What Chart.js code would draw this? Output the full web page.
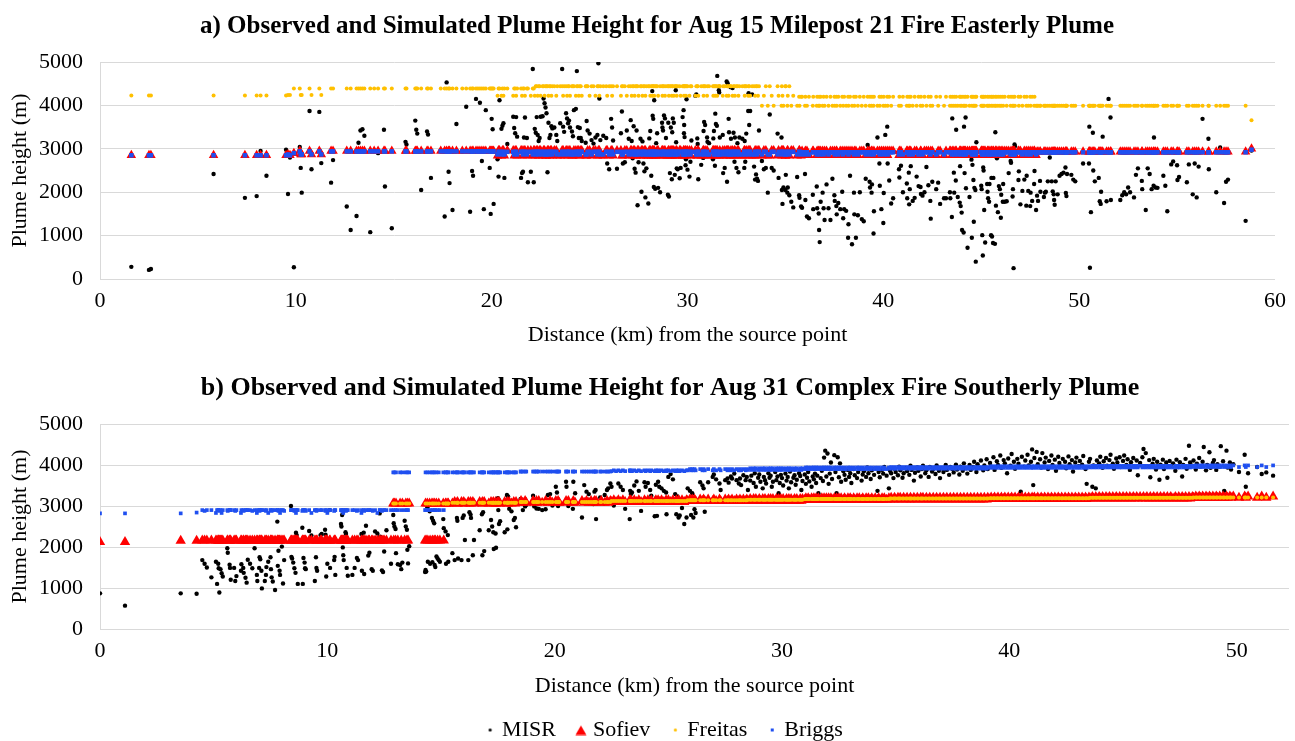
<!DOCTYPE html>
<html>
<head>
<meta charset="utf-8">
<title>Observed and Simulated Plume Height</title>
<script src="https://cdn.jsdelivr.net/npm/chart.js@4.4.0/dist/chart.umd.min.js"></script>
<style>
  html, body { margin: 0; padding: 0; background: #fff; overflow: hidden; }
  #boxA { position: absolute; left: 0; top: 0; width: 1295px; height: 355px; }
  #boxB { position: absolute; left: 0; top: 360px; width: 1295px; height: 391px; }
</style>
</head>
<body>
<div id="boxA"><canvas id="chartA" width="1295" height="355"></canvas></div>
<div id="boxB"><canvas id="chartB" width="1295" height="391"></canvas></div>
<script>
// ---- a) Aug 15 Milepost 21 Fire, easterly plume ----
// distance (km) from the source point, one entry per MISR retrieval
var distA = [
  1.6,2.5,2.6,5.8,7.4,8.0,8.2,8.5,9.5,9.6,
  9.7,9.9,10.2,10.25,10.3,10.7,10.8,11.2,11.3,11.8,
  11.9,12.6,12.8,13.1,13.2,13.3,13.4,13.5,13.8,14.0,
  14.2,14.5,14.55,14.9,15.6,15.65,16.1,16.15,16.2,16.4,
  16.7,16.75,16.9,17.4,17.6,17.7,17.8,17.85,18.0,18.2,
  18.5,18.7,18.9,19.0,19.05,19.2,19.3,19.4,19.5,19.6,
  19.7,19.9,19.95,20.0,20.05,20.1,20.3,20.35,20.4,20.5,
  20.55,20.6,20.65,20.8,21.1,21.15,21.2,21.25,21.3,21.5,
  21.55,21.6,21.65,21.7,21.8,21.85,22.0,22.1,22.15,22.2,
  22.25,22.3,22.35,22.4,22.45,22.5,22.6,22.65,22.7,22.75,
  22.8,22.85,22.9,22.95,23.0,23.05,23.1,23.2,23.3,23.35,
  23.5,23.6,23.65,23.7,23.8,23.85,23.9,23.95,24.0,24.1,
  24.15,24.2,24.3,24.35,24.4,24.45,24.5,24.55,24.6,24.8,
  24.85,24.9,25.0,25.1,25.2,25.3,25.4,25.45,25.5,25.55,
  25.7,25.85,25.9,26.0,26.1,26.15,26.2,26.4,26.6,26.65,
  26.7,26.8,26.9,27.0,27.1,27.15,27.2,27.25,27.3,27.35,
  27.4,27.45,27.5,27.6,27.65,27.7,27.75,27.8,27.85,27.9,
  28.0,28.05,28.1,28.15,28.2,28.22,28.25,28.28,28.3,28.35,
  28.4,28.45,28.5,28.6,28.7,28.72,28.75,28.8,28.85,28.9,
  29.0,29.02,29.05,29.1,29.15,29.2,29.22,29.25,29.3,29.35,
  29.4,29.42,29.45,29.5,29.6,29.65,29.75,29.8,29.82,29.83,
  29.85,29.9,29.92,29.95,30.0,30.1,30.15,30.2,30.4,30.45,
  30.5,30.52,30.55,30.7,30.8,30.82,30.85,30.9,31.0,31.02,
  31.1,31.3,31.32,31.35,31.4,31.42,31.45,31.5,31.52,31.6,
  31.62,31.65,31.8,31.82,31.9,32.0,32.02,32.05,32.1,32.12,
  32.2,32.22,32.3,32.35,32.4,32.42,32.5,32.55,32.6,32.65,
  32.8,32.9,32.92,32.95,33.0,33.1,33.12,33.15,33.2,33.3,
  33.4,33.45,33.5,33.55,33.6,33.65,33.8,33.9,34.0,34.1,
  34.2,34.3,34.4,34.6,34.65,34.8,34.82,34.85,34.9,35.0,
  35.02,35.1,35.12,35.2,35.3,35.4,35.6,35.7,35.72,35.8,
  35.85,36.0,36.02,36.1,36.2,36.4,36.42,36.6,36.62,36.7,
  36.72,36.75,36.8,36.9,36.95,37.0,37.1,37.2,37.3,37.4,
  37.5,37.52,37.6,37.62,37.7,37.8,37.9,37.95,38.0,38.1,
  38.2,38.22,38.3,38.4,38.5,38.52,38.6,38.7,38.8,38.9,
  39.0,39.1,39.2,39.3,39.32,39.4,39.42,39.5,39.52,39.7,
  39.8,39.82,39.9,40.0,40.02,40.1,40.2,40.22,40.3,40.4,
  40.5,40.8,40.82,40.9,41.0,41.2,41.22,41.3,41.32,41.35,
  41.4,41.5,41.6,41.7,41.8,41.9,41.92,42.0,42.1,42.2,
  42.3,42.4,42.42,42.5,42.7,42.8,42.9,43.1,43.2,43.4,
  43.42,43.5,43.52,43.6,43.62,43.7,43.72,43.8,43.9,43.92,
  43.95,44.0,44.02,44.1,44.12,44.15,44.2,44.22,44.3,44.4,
  44.5,44.52,44.55,44.6,44.62,44.65,44.7,44.72,44.75,45.0,
  45.02,45.05,45.08,45.1,45.12,45.15,45.2,45.3,45.32,45.35,
  45.4,45.42,45.5,45.52,45.55,45.6,45.62,45.7,45.72,45.75,
  45.8,45.85,45.9,45.95,46.0,46.02,46.1,46.12,46.2,46.3,
  46.4,46.5,46.52,46.6,46.62,46.65,46.7,46.72,46.9,46.92,
  47.0,47.1,47.2,47.3,47.32,47.4,47.5,47.52,47.6,47.7,
  47.72,47.8,47.85,47.9,48.0,48.02,48.2,48.25,48.3,48.4,
  48.5,48.6,48.65,48.7,48.72,48.75,48.8,48.9,49.0,49.1,
  49.2,49.3,49.32,49.35,49.38,49.6,49.7,49.8,50.2,50.5,
  50.52,50.55,50.6,50.7,50.72,50.8,51.0,51.05,51.1,51.12,
  51.2,51.4,51.5,51.6,51.62,52.1,52.2,52.3,52.4,52.5,
  52.6,52.8,52.9,53.0,53.2,53.22,53.4,53.5,53.6,53.7,
  53.8,53.82,53.9,54.0,54.3,54.4,54.5,54.7,54.8,55.0,
  55.02,55.1,55.5,55.6,55.8,55.9,56.0,56.1,56.3,56.6,
  56.62,57.0,57.2,57.4,57.5,57.6,58.5,58.8
];
var misrA = [
  280,210,230,2420,1870,1910,2950,2380,2980,1960,
  2800,270,3040,2560,1990,3870,2530,3850,2670,2220,
  2740,1670,1130,1450,3140,3420,3450,3300,1080,2950,
  2900,3440,2130,1170,3160,3100,3650,3440,3350,2050,
  3400,3330,2330,2960,1440,4530,2470,2210,1590,3570,
  2930,3970,1550,2490,2380,4150,2970,4060,2720,1610,
  3890,2560,1500,3690,3450,1730,2760,2360,4120,3460,
  3530,3590,2330,3110,3740,3480,3360,3730,3280,2330,
  2440,2470,3260,3720,3250,2230,2470,4840,2230,3460,
  3370,3730,3320,3180,3250,3740,3750,4160,4050,3950,
  3820,2460,3600,3250,3320,3520,3470,3490,3320,3180,
  3590,4840,3510,3390,3820,3700,3590,3650,3490,3400,
  3290,3890,3920,4790,3500,3250,3480,3250,3180,3140,
  3640,3420,3350,3200,3120,3260,3320,4970,4160,3200,
  3300,3250,2660,2530,3690,3490,3190,2540,3360,3860,
  2660,2690,3420,3230,3660,3180,2780,3520,2540,2450,
  3420,1700,2690,3230,2010,3170,2660,2480,1880,2550,
  1740,3240,3410,2380,4330,3760,3690,2120,4120,2080,
  3130,3360,2100,2000,3600,3490,3420,3770,3700,3250,
  1940,3600,1900,2440,3490,2300,3380,3700,3600,2400,
  4350,3150,2550,2530,2320,2560,3730,3890,3360,3550,
  3270,2620,2760,4140,2520,2360,2700,3190,4220,4250,
  3240,3110,2300,2630,2790,3410,3620,3550,3260,3160,
  3130,2760,3240,3410,2610,3810,3570,3530,4680,4350,
  4300,3260,3320,2440,2560,4550,2240,4510,3690,3380,
  4420,3230,4400,3370,2700,3260,2560,3130,2460,3260,
  3230,2560,3180,2700,3350,3870,4280,3550,3870,4250,
  2590,2290,2410,2310,2260,3420,2720,2530,2560,1990,
  3790,2560,2500,3350,2330,3260,2050,1730,2110,2050,
  2400,1990,2110,1930,1780,1650,2350,1930,1870,1670,
  1640,2420,1820,1440,1400,1940,1610,2130,1630,1510,
  1130,850,1780,1990,1630,1360,2180,1630,1360,2310,
  1930,1800,1680,1490,1750,1610,2010,1400,1610,1570,
  950,1260,2380,800,1990,1490,950,1470,2000,1380,
  1330,2310,3090,2240,2110,1990,2180,1050,1560,3260,
  2660,2150,1610,1290,1980,3320,3510,2660,2270,1740,
  1860,2530,2340,2610,2000,2200,1860,2450,1720,2070,
  2600,1800,1870,2360,2140,2120,1960,1920,2000,2580,
  2160,1800,1390,2240,2070,2220,1730,1860,1860,2000,
  1860,1430,3700,2450,1990,2270,3440,1890,1760,2600,
  1680,1530,1130,1070,3510,2440,3720,2090,720,1890,
  2750,950,2630,2280,1320,2100,2050,400,3150,2150,
  2070,1010,540,2570,2500,1590,840,2190,2010,1860,
  1780,2190,1010,2330,980,830,2330,810,3380,1690,
  2780,1540,2140,2070,1410,1940,1780,2190,1780,1790,
  2440,2720,2680,1900,2070,250,3100,3060,2280,2480,
  1720,2030,2290,1690,2380,2030,1680,1990,1800,2190,
  2490,1590,1920,1800,2260,2010,1890,1990,2010,2250,
  2800,2250,2020,1950,1820,1710,2250,1950,2380,2420,
  2450,2570,1980,1910,2420,2400,2290,2250,2660,2660,
  3510,260,1540,3370,2500,2250,2330,1790,1730,2010,
  3280,1790,4150,3720,1820,1820,1930,2000,1950,2110,
  2000,1880,2400,2550,2260,2070,1590,2550,2420,2070,
  2150,3260,2110,2100,2380,2150,1560,2640,2710,2620,
  2280,2350,2230,2640,1950,2660,1880,2590,3690,3230,
  2530,2000,3030,1750,2240,2290,1340,2960
];
var sofievA = [
  2850,2850,2850,2850,2850,2850,2850,2850,2850,2870,
  2850,2900,2950,2870,2870,2950,2870,2950,2870,2950,
  2950,2950,2950,2950,2950,2950,2950,2950,2950,2950,
  2950,2950,2950,2950,2950,2950,2950,2950,2950,2950,
  2950,2950,2950,2950,2950,2950,2950,2950,2950,2950,
  2950,2950,2950,2950,2950,2950,2950,2950,2950,2950,
  2950,2950,2950,2950,2950,2950,2840,2960,2960,2840,
  2960,2960,2840,2960,2960,2840,2960,2960,2840,2960,
  2960,2840,2960,2960,2840,2960,2960,2840,2960,2960,
  2840,2960,2960,2840,2960,2960,2840,2960,2960,2840,
  2840,2960,2960,2840,2960,2960,2840,2960,2960,2840,
  2840,2960,2960,2840,2960,2960,2840,2960,2960,2840,
  2840,2960,2960,2840,2960,2960,2840,2960,2960,2840,
  2840,2960,2960,2840,2960,2960,2840,2960,2960,2840,
  2840,2960,2960,2840,2960,2960,2840,2960,2960,2840,
  2840,2960,2960,2840,2960,2960,2840,2960,2960,2840,
  2840,2960,2960,2840,2960,2960,2840,2960,2960,2840,
  2840,2960,2960,2840,2960,2960,2840,2960,2960,2840,
  2840,2960,2960,2840,2960,2960,2840,2960,2960,2840,
  2840,2960,2960,2840,2960,2960,2840,2960,2960,2840,
  2840,2960,2960,2840,2960,2960,2840,2960,2960,2840,
  2840,2960,2960,2840,2960,2960,2840,2960,2960,2840,
  2840,2960,2960,2840,2960,2960,2840,2960,2960,2840,
  2840,2960,2960,2840,2960,2960,2840,2960,2960,2840,
  2840,2960,2960,2840,2960,2960,2840,2960,2960,2840,
  2840,2960,2960,2840,2960,2960,2840,2960,2960,2840,
  2840,2960,2960,2840,2960,2960,2840,2960,2960,2840,
  2840,2960,2960,2840,2960,2960,2840,2960,2960,2840,
  2840,2960,2960,2840,2960,2960,2840,2960,2960,2840,
  2840,2960,2960,2840,2960,2960,2840,2960,2960,2840,
  2950,2850,2950,2950,2850,2950,2950,2850,2950,2950,
  2950,2850,2950,2950,2850,2950,2950,2850,2950,2950,
  2950,2850,2950,2950,2850,2950,2950,2850,2950,2950,
  2950,2850,2950,2950,2850,2950,2950,2850,2950,2950,
  2950,2850,2950,2950,2850,2950,2950,2850,2950,2950,
  2950,2850,2950,2950,2850,2950,2950,2850,2950,2950,
  2950,2850,2950,2950,2850,2950,2950,2850,2950,2950,
  2950,2850,2950,2950,2850,2950,2950,2850,2950,2950,
  2950,2850,2950,2950,2850,2950,2950,2850,2950,2950,
  2950,2850,2950,2950,2850,2950,2950,2850,2950,2950,
  2950,2850,2950,2950,2850,2950,2950,2850,2950,2950,
  2950,2850,2950,2950,2850,2950,2950,2850,2950,2950,
  2950,2850,2950,2950,2850,2950,2950,2850,2950,2950,
  2950,2850,2950,2950,2850,2950,2950,2850,2950,2950,
  2950,2850,2950,2950,2850,2950,2950,2850,2950,2950,
  2950,2850,2950,2950,2850,2950,2950,2850,2950,2950,
  2950,2850,2950,2950,2850,2950,2950,2850,2950,2950,
  2950,2850,2930,2930,2930,2930,2930,2930,2930,2930,
  2930,2930,2930,2930,2930,2930,2930,2930,2930,2930,
  2930,2930,2930,2930,2930,2930,2930,2930,2930,2930,
  2930,2930,2930,2930,2930,2930,2930,2930,2930,2930,
  2930,2930,2930,2930,2930,2930,2930,2930,2930,2930,
  2930,2930,2930,2930,2930,2930,2930,2930,2930,2930,
  2930,2930,2930,2930,2930,2930,2930,2930,2930,2930,
  2930,2930,2930,2930,2930,2930,2930,2930,2930,2930,
  2930,2930,2930,2930,2930,2930,2930,3000
];
var freitasA = [
  4230,4230,4230,4230,4230,4230,4230,4230,4230,4240,
  4240,4390,4390,4240,4240,4390,4240,4390,4240,4390,
  4390,4390,4390,4390,4390,4390,4390,4390,4390,4390,
  4390,4390,4390,4390,4390,4390,4390,4390,4390,4390,
  4390,4390,4390,4390,4390,4390,4390,4390,4390,4390,
  4390,4390,4390,4390,4390,4390,4390,4390,4390,4390,
  4390,4390,4390,4390,4390,4390,4220,4390,4390,4220,
  4390,4220,4390,4390,4220,4390,4390,4220,4390,4390,
  4220,4390,4390,4220,4390,4390,4220,4390,4390,4220,
  4440,4440,4220,4440,4440,4220,4440,4440,4220,4440,
  4440,4440,4220,4440,4440,4220,4440,4440,4220,4440,
  4440,4440,4220,4440,4440,4220,4440,4440,4220,4440,
  4440,4440,4220,4440,4440,4220,4440,4440,4220,4440,
  4440,4440,4220,4440,4440,4220,4440,4440,4220,4440,
  4440,4440,4220,4440,4440,4220,4440,4440,4220,4440,
  4440,4440,4220,4440,4440,4220,4440,4440,4220,4440,
  4440,4440,4220,4440,4440,4220,4440,4440,4220,4440,
  4440,4440,4220,4440,4440,4220,4440,4440,4220,4440,
  4440,4440,4220,4440,4440,4220,4440,4440,4220,4440,
  4440,4440,4220,4440,4440,4220,4440,4440,4220,4440,
  4440,4440,4220,4440,4440,4220,4440,4440,4220,4440,
  4440,4440,4220,4440,4440,4220,4440,4440,4220,4440,
  4440,4440,4220,4440,4440,4220,4440,4440,4220,4440,
  4440,4440,4220,4440,4440,4220,4440,4440,4220,4440,
  4440,4440,4220,4440,4440,4220,4440,4440,4220,4440,
  4440,4440,4220,4440,4440,4220,4440,4440,4220,4440,
  4440,4440,4220,4440,4440,4220,4440,4440,4220,4440,
  4440,4220,4440,4440,4220,4440,3990,4220,4440,3990,
  4440,4220,3990,4440,4220,3990,4440,4220,3990,4440,
  4440,3990,4220,4440,3990,4220,3990,4200,3990,4200,
  4200,3990,4200,3990,4200,3990,4200,3990,4200,3990,
  4200,3990,4200,3990,4200,3990,4200,3990,4200,3990,
  4200,3990,4200,3990,4200,3990,4200,3990,4200,3990,
  4200,3990,4200,3990,4200,3990,4200,3990,4200,3990,
  4200,3990,4200,3990,4200,3990,4200,3990,4200,3990,
  4200,3990,4200,3990,4200,3990,4200,3990,4200,3990,
  4200,3990,4200,3990,4200,3990,4200,3990,4200,3990,
  4200,3990,4200,3990,4200,3990,4200,3990,4200,3990,
  4200,3990,4200,3990,4200,3990,4200,3990,4200,3990,
  4200,3990,4200,3990,4200,3990,4200,3990,4200,3990,
  4200,3990,4200,3990,4200,3990,4200,3990,4200,3990,
  4200,3990,4200,3990,4200,3990,4200,3990,4200,3990,
  4200,3990,4200,3990,4200,3990,4200,3990,4200,3990,
  4200,3990,4200,3990,4200,3990,4200,3990,4200,3990,
  4200,3990,4200,3990,4200,3990,4200,3990,4200,3990,
  4200,3990,4200,3990,4200,3990,4200,3990,4200,3990,
  4200,3990,4200,3990,4200,3990,4200,3990,4200,3990,
  4200,3990,3990,3990,3990,3990,3990,3990,3990,3990,
  3990,3990,3990,3990,3990,3990,3990,3990,3990,3990,
  3990,3990,3990,3990,3990,3990,3990,3990,3990,3990,
  3990,3990,3990,3990,3990,3990,3990,3990,3990,3990,
  3990,3990,3990,3990,3990,3990,3990,3990,3990,3990,
  3990,3990,3990,3990,3990,3990,3990,3990,3990,3990,
  3990,3990,3990,3990,3990,3990,3990,3990,3990,3990,
  3990,3990,3990,3990,3990,3990,3990,3990,3990,3990,
  3990,3990,3990,3990,3990,3990,3990,3660
];
var briggsA = [
  2850,2850,2850,2850,2850,2850,2850,2850,2850,2870,
  2850,2900,2940,2870,2870,2940,2870,2940,2870,2940,
  2940,2940,2940,2940,2940,2940,2940,2940,2940,2940,
  2940,2940,2940,2940,2940,2940,2940,2940,2940,2940,
  2940,2940,2940,2940,2940,2940,2940,2940,2940,2940,
  2940,2940,2940,2940,2940,2940,2940,2940,2940,2940,
  2940,2940,2940,2940,2940,2940,2870,2930,2930,2870,
  2930,2930,2870,2930,2930,2870,2930,2930,2870,2930,
  2930,2870,2930,2930,2870,2930,2930,2870,2930,2930,
  2870,2930,2930,2870,2930,2930,2870,2930,2930,2870,
  2870,2930,2930,2870,2930,2930,2870,2930,2930,2870,
  2870,2930,2930,2870,2930,2930,2870,2930,2930,2870,
  2870,2930,2930,2870,2930,2930,2870,2930,2930,2870,
  2870,2930,2930,2870,2930,2930,2870,2930,2930,2870,
  2870,2930,2930,2870,2930,2930,2870,2930,2930,2870,
  2870,2930,2930,2870,2930,2930,2870,2930,2930,2870,
  2870,2930,2930,2870,2930,2930,2870,2930,2930,2870,
  2870,2930,2930,2870,2930,2930,2870,2930,2930,2870,
  2870,2930,2930,2870,2930,2930,2870,2930,2930,2870,
  2870,2930,2930,2870,2930,2930,2870,2930,2930,2870,
  2870,2930,2930,2870,2930,2930,2870,2930,2930,2870,
  2870,2930,2930,2870,2930,2930,2870,2930,2930,2870,
  2870,2930,2930,2870,2930,2930,2870,2930,2930,2870,
  2870,2930,2930,2870,2930,2930,2870,2930,2930,2870,
  2870,2930,2930,2870,2930,2930,2870,2930,2930,2870,
  2870,2930,2930,2870,2930,2930,2870,2930,2930,2870,
  2870,2930,2930,2870,2930,2930,2870,2930,2930,2870,
  2870,2930,2930,2870,2930,2930,2870,2930,2930,2870,
  2870,2930,2930,2870,2930,2930,2870,2930,2930,2870,
  2870,2930,2930,2870,2930,2930,2870,2930,2930,2870,
  2920,2870,2920,2920,2870,2920,2920,2870,2920,2920,
  2920,2870,2920,2920,2870,2920,2920,2870,2920,2920,
  2920,2870,2920,2920,2870,2920,2920,2870,2920,2920,
  2920,2870,2920,2920,2870,2920,2920,2870,2920,2920,
  2920,2870,2920,2920,2870,2920,2920,2870,2920,2920,
  2920,2870,2920,2920,2870,2920,2920,2870,2920,2920,
  2920,2870,2920,2920,2870,2920,2920,2870,2920,2920,
  2920,2870,2920,2920,2870,2920,2920,2870,2920,2920,
  2920,2870,2920,2920,2870,2920,2920,2870,2920,2920,
  2920,2870,2920,2920,2870,2920,2920,2870,2920,2920,
  2920,2870,2920,2920,2870,2920,2920,2870,2920,2920,
  2920,2870,2920,2920,2870,2920,2920,2870,2920,2920,
  2920,2870,2920,2920,2870,2920,2920,2870,2920,2920,
  2920,2870,2920,2920,2870,2920,2920,2870,2920,2920,
  2920,2870,2920,2920,2870,2920,2920,2870,2920,2920,
  2920,2870,2920,2920,2870,2920,2920,2870,2920,2920,
  2920,2870,2920,2920,2870,2920,2920,2870,2920,2920,
  2920,2870,2920,2920,2920,2920,2920,2920,2920,2920,
  2920,2920,2920,2920,2920,2920,2920,2920,2920,2920,
  2920,2920,2920,2920,2920,2920,2920,2920,2920,2920,
  2920,2920,2920,2920,2920,2920,2920,2920,2920,2920,
  2920,2920,2920,2920,2920,2920,2920,2920,2920,2920,
  2920,2920,2920,2920,2920,2920,2920,2920,2920,2920,
  2920,2920,2920,2920,2920,2920,2920,2920,2920,2920,
  2920,2920,2920,2920,2920,2920,2920,2920,2920,2920,
  2920,2920,2920,2920,2920,2920,2920,2980
];

// ---- b) Aug 31 Complex Fire, southerly plume ----
var distB = [
  0.0,1.1,3.55,4.25,4.5,4.6,4.7,4.9,5.1,5.15,
  5.2,5.22,5.25,5.3,5.35,5.4,5.6,5.62,5.7,5.72,
  5.75,5.9,5.95,6.0,6.2,6.22,6.3,6.32,6.4,6.45,
  6.5,6.6,6.7,6.8,6.9,6.92,7.0,7.02,7.05,7.1,
  7.12,7.25,7.3,7.32,7.4,7.5,7.52,7.55,7.6,7.7,
  7.8,7.82,7.85,7.9,7.92,8.0,8.05,8.1,8.4,8.42,
  8.45,8.5,8.55,8.6,8.62,8.65,8.7,8.9,8.92,8.95,
  9.0,9.02,9.05,9.2,9.3,9.45,9.5,9.52,9.55,9.7,
  9.75,9.9,9.92,9.95,10.0,10.1,10.12,10.3,10.32,10.35,
  10.6,10.62,10.65,10.68,10.7,10.72,10.8,10.82,10.85,10.9,
  11.1,11.2,11.3,11.35,11.5,11.52,11.6,11.62,11.7,11.8,
  11.85,11.95,12.0,12.1,12.2,12.3,12.32,12.4,12.45,12.5,
  12.6,12.8,12.9,12.92,12.95,13.0,13.02,13.1,13.2,13.25,
  13.3,13.4,13.45,13.5,13.52,13.55,13.6,14.3,14.32,14.35,
  14.4,14.42,14.5,14.52,14.6,14.62,14.65,14.7,14.72,14.75,
  14.8,14.85,14.9,14.95,15.1,15.12,15.2,15.22,15.3,15.32,
  15.5,15.6,15.7,15.72,15.75,15.9,15.95,16.0,16.05,16.2,
  16.25,16.3,16.32,16.4,16.45,16.7,16.8,16.82,16.85,16.9,
  17.1,17.2,17.25,17.3,17.32,17.4,17.42,17.5,17.52,17.55,
  17.6,17.8,17.9,17.92,17.95,18.0,18.1,18.2,18.25,18.3,
  18.5,18.52,18.6,18.7,18.75,19.05,19.1,19.2,19.22,19.3,
  19.45,19.6,19.7,19.8,19.9,20.05,20.1,20.15,20.2,20.5,
  20.52,20.6,20.8,20.82,20.9,21.2,21.3,21.4,21.5,21.6,
  21.7,21.75,21.8,21.82,22.0,22.05,22.2,22.3,22.35,22.45,
  22.5,22.6,22.7,22.8,22.9,23.0,23.1,23.3,23.32,23.35,
  23.4,23.5,23.6,23.7,23.8,23.95,24.0,24.1,24.2,24.25,
  24.4,24.45,24.5,24.55,24.6,24.7,24.8,24.9,24.92,25.0,
  25.1,25.2,25.3,25.35,25.4,25.45,25.5,25.6,25.7,25.8,
  25.85,25.95,26.0,26.05,26.1,26.15,26.2,26.4,26.5,26.55,
  26.6,26.75,26.95,27.0,27.1,27.25,27.3,27.5,27.6,27.65,
  27.75,27.8,27.9,28.0,28.1,28.15,28.2,28.3,28.4,28.45,
  28.5,28.6,28.65,28.75,28.8,28.85,28.95,29.0,29.05,29.15,
  29.2,29.25,29.3,29.4,29.45,29.5,29.55,29.6,29.7,29.75,
  29.8,29.85,29.9,29.95,30.0,30.05,30.15,30.2,30.25,30.3,
  30.35,30.4,30.5,30.55,30.6,30.65,30.75,30.8,30.85,30.9,
  31.0,31.05,31.1,31.15,31.2,31.3,31.35,31.4,31.45,31.5,
  31.55,31.6,31.7,31.75,31.8,31.85,31.9,31.95,32.0,32.05,
  32.1,32.15,32.2,32.3,32.35,32.4,32.45,32.5,32.55,32.6,
  32.7,32.75,32.8,32.9,32.95,33.0,33.05,33.15,33.2,33.3,
  33.35,33.4,33.5,33.55,33.6,33.7,33.75,33.8,33.9,33.95,
  34.05,34.1,34.2,34.25,34.3,34.4,34.45,34.5,34.6,34.7,
  34.75,34.8,34.9,34.95,35.0,35.1,35.15,35.2,35.3,35.35,
  35.45,35.5,35.6,35.65,35.7,35.8,35.85,35.95,36.0,36.1,
  36.15,36.2,36.3,36.35,36.45,36.5,36.6,36.65,36.75,36.8,
  36.9,36.95,37.05,37.1,37.2,37.25,37.35,37.4,37.5,37.55,
  37.65,37.7,37.8,37.85,37.95,38.0,38.1,38.15,38.25,38.3,
  38.4,38.45,38.55,38.6,38.7,38.75,38.85,38.9,39.0,39.05,
  39.15,39.2,39.3,39.35,39.45,39.5,39.6,39.65,39.75,39.8,
  39.9,39.95,40.05,40.1,40.2,40.25,40.35,40.4,40.5,40.55,
  40.65,40.7,40.8,40.85,40.95,41.0,41.05,41.1,41.2,41.25,
  41.35,41.4,41.45,41.55,41.6,41.7,41.75,41.85,41.9,42.0,
  42.05,42.15,42.2,42.3,42.35,42.45,42.5,42.6,42.65,42.75,
  42.8,42.9,42.95,43.05,43.1,43.2,43.25,43.35,43.4,43.5,
  43.55,43.65,43.7,43.8,43.85,43.95,44.0,44.1,44.15,44.25,
  44.3,44.4,44.45,44.55,44.6,44.7,44.75,44.85,44.9,45.0,
  45.05,45.15,45.2,45.3,45.35,45.45,45.5,45.6,45.65,45.75,
  45.85,45.9,46.0,46.05,46.15,46.2,46.3,46.35,46.45,46.5,
  46.6,46.65,46.75,46.8,46.9,46.95,47.05,47.1,47.2,47.3,
  47.35,47.45,47.5,47.6,47.65,47.75,47.8,47.9,47.95,48.05,
  48.1,48.2,48.25,48.35,48.4,48.5,48.55,48.65,48.7,48.8,
  48.85,48.95,49.0,49.1,49.15,49.25,49.3,49.4,49.45,49.55,
  49.6,49.7,49.75,49.85,50.1,50.35,50.4,50.5,50.9,51.1,
  51.3,51.6
];
var misrB = [
  870,570,870,860,1680,1590,1500,1260,1640,1100,
  1590,1480,890,1460,1360,1280,1970,1860,1570,1490,
  1200,1490,1170,1290,1420,1580,1490,1370,1250,1130,
  1690,1590,1480,1970,1320,1170,1490,1750,1700,1420,
  990,1170,1320,1510,1640,1750,1460,1260,1160,950,
  2620,1540,1910,1420,1320,2010,1110,1680,3000,1760,
  1720,1620,1480,1370,2350,2290,1100,2470,1100,1730,
  1620,1480,1460,2390,2280,1170,1750,1490,1420,2290,
  2320,2420,2300,1280,1590,2900,1490,1680,1760,1320,
  2560,2500,2780,1990,1800,1680,2360,2320,1490,1300,
  1320,1490,1730,1680,2320,1420,2350,1340,2520,1790,
  1860,1460,1420,2380,2330,2820,2250,1430,1390,1890,
  2410,1590,2780,2580,2500,2440,1850,1580,1560,1460,
  1620,2640,2500,2420,1930,1600,2020,1390,1440,1400,
  2970,1640,2870,1590,2710,1630,2640,2580,1560,1510,
  1770,1720,1680,1640,2680,2460,2380,1590,2290,1640,
  1850,1680,2710,2640,1720,1680,2710,2770,2170,1680,
  2850,2790,2710,1800,2170,2410,2800,1800,2850,1900,
  2410,2660,2500,2360,1950,2330,1980,3190,2900,2560,
  2630,2360,3270,2430,3230,2930,2870,2660,2710,2480,
  3170,3110,2900,2990,3030,3250,2990,2940,3150,2930,
  2900,2920,3270,3290,3010,3470,3330,3000,3070,3590,
  3470,3000,2930,3590,3310,2720,3510,3350,3290,3150,
  3050,3350,3390,2680,3210,3150,3270,3390,3430,3550,
  3470,3010,3150,3550,3470,3390,2930,2680,3370,3290,
  3330,3500,3600,3370,2880,3580,3470,3560,3390,3250,
  2750,3520,2760,3590,3470,3430,3370,3330,2800,3710,
  3780,3650,3290,2800,3230,2720,2770,2950,2560,2720,
  3430,3370,2780,3310,2720,2920,2830,3580,3500,3430,
  2860,3580,3710,3770,3650,3550,3390,3630,3670,3570,
  3720,3670,3790,3630,3550,3670,3510,3750,3630,3710,
  3390,3620,3740,3560,3800,3470,3690,3770,3590,3430,
  3710,3630,3550,3800,3690,3740,3470,3590,3830,3630,
  3720,3310,3560,3760,3680,3500,3790,3620,3710,3430,
  3840,3580,3690,3750,3520,3640,3800,3730,3390,3610,
  3770,3540,3690,3830,3600,3470,3720,3650,3790,3560,
  3740,3310,3680,3860,3610,4180,4350,3720,4280,3540,
  3790,4060,3660,4240,3830,3310,4190,3700,4040,3590,
  3850,3760,3640,3880,3710,3800,3560,3900,3750,3680,
  3830,3900,3620,3770,3850,3710,3940,3800,3660,3870,
  3760,3920,3370,3830,3700,3880,3790,3950,3740,3430,
  3860,3800,3680,3910,3830,3750,3960,3870,3690,3800,
  3930,3850,3760,3980,3880,3620,3810,3940,3860,3720,
  3900,3980,3800,3870,3710,3950,3840,3900,3780,3990,
  3860,3680,3920,3830,4000,3880,3760,3950,3900,3820,
  4010,3890,3770,3960,3860,4040,3920,3790,4000,3880,
  3950,4080,3830,4020,3930,4110,3870,3990,4140,3900,
  4050,3960,4190,3880,4090,4000,4230,3930,4120,4040,
  3800,4160,3980,4270,4080,3910,4150,4030,3350,4200,
  3960,4110,4250,3990,4080,4380,3510,4170,4320,4020,
  4140,3940,4290,4060,4180,3900,4100,4230,4000,4130,
  3860,4200,4050,3960,4150,4080,3920,4210,4020,4120,
  3840,4060,4180,3970,4100,4010,4220,3900,3540,4080,
  4150,3470,3990,3430,4110,4040,4200,3930,4090,4170,
  3980,4120,4250,4030,3910,4160,4060,4190,3950,4100,
  4230,4000,4140,3880,4070,4170,3960,4110,3750,4050,
  4190,4390,4290,3970,4120,3700,4030,4150,3890,4080,
  3640,4010,4130,3900,4060,3690,4100,3970,4040,3860,
  4130,3950,4070,3720,4000,4150,3910,4470,4060,3980,
  4110,3890,4030,4170,3960,4080,4440,3870,4000,4310,
  3930,4050,4120,3880,4020,3960,4460,4090,3370,4350,
  3940,4060,3890,4020,3830,4250,3470,3800,3950,3780,
  3820,3740
];
var sofievB = [
  2120,2120,2150,2150,2160,2160,2160,2160,2160,2160,
  2160,2160,2160,2160,2160,2160,2160,2160,2160,2160,
  2160,2160,2160,2160,2160,2160,2160,2160,2160,2160,
  2160,2160,2160,2160,2160,2160,2160,2160,2160,2160,
  2160,2160,2160,2160,2160,2160,2160,2160,2160,2160,
  2160,2160,2160,2160,2160,2160,2160,2160,2160,2160,
  2160,2160,2160,2160,2160,2160,2160,2160,2160,2160,
  2160,2160,2160,2160,2160,2160,2160,2160,2160,2160,
  2160,2160,2160,2160,2160,2160,2160,2160,2160,2160,
  2160,2160,2160,2160,2160,2160,2160,2160,2160,2160,
  2160,2160,2160,2160,2160,2160,2160,2160,2160,2160,
  2160,2160,2160,2160,2160,2160,2160,2160,2160,2160,
  2160,2160,3060,2160,3060,2160,3060,2160,3060,2160,
  3060,2160,3060,2160,3060,2160,3060,2160,3060,2160,
  3060,2160,3060,2160,3060,2160,3060,2160,3060,2160,
  3060,2160,3060,2160,3060,2160,3060,3060,3060,3060,
  3060,3100,3060,3100,3060,3100,3060,3100,3060,3100,
  3060,3100,3060,3100,3060,3100,3060,3100,3060,3100,
  3060,3100,3060,3100,3060,3100,3060,3100,3060,3100,
  3060,3100,3060,3100,3060,3100,3060,3100,3060,3100,
  3080,3120,3080,3120,3080,3120,3080,3120,3080,3120,
  3080,3120,3080,3120,3080,3120,3080,3120,3080,3120,
  3080,3120,3080,3120,3080,3120,3080,3120,3080,3120,
  3080,3120,3080,3120,3080,3120,3080,3120,3080,3120,
  3100,3140,3100,3140,3100,3140,3100,3140,3100,3140,
  3100,3140,3100,3140,3100,3140,3100,3140,3100,3140,
  3100,3140,3100,3140,3100,3140,3100,3140,3100,3140,
  3100,3140,3100,3140,3100,3140,3100,3140,3100,3140,
  3120,3160,3120,3160,3120,3160,3120,3160,3120,3160,
  3120,3160,3120,3160,3120,3160,3120,3160,3120,3160,
  3120,3160,3120,3160,3120,3160,3120,3160,3120,3160,
  3130,3170,3130,3170,3130,3170,3130,3170,3130,3170,
  3130,3170,3130,3170,3130,3170,3130,3170,3130,3170,
  3130,3170,3130,3170,3130,3170,3130,3170,3130,3170,
  3130,3170,3130,3170,3130,3170,3130,3170,3130,3170,
  3150,3190,3150,3190,3150,3190,3150,3190,3150,3190,
  3150,3190,3150,3190,3150,3190,3150,3190,3150,3190,
  3150,3190,3150,3190,3150,3190,3150,3190,3150,3190,
  3150,3190,3150,3190,3150,3190,3150,3190,3150,3190,
  3150,3190,3150,3190,3150,3190,3150,3190,3150,3190,
  3150,3190,3150,3190,3150,3190,3150,3190,3150,3190,
  3160,3200,3160,3200,3160,3200,3160,3200,3160,3200,
  3160,3200,3160,3200,3160,3200,3160,3200,3160,3200,
  3160,3200,3160,3200,3160,3200,3160,3200,3160,3200,
  3160,3200,3160,3200,3160,3200,3160,3200,3160,3200,
  3160,3200,3160,3200,3160,3200,3160,3200,3160,3200,
  3160,3200,3160,3200,3160,3200,3160,3200,3160,3200,
  3170,3210,3170,3210,3170,3210,3170,3210,3170,3210,
  3170,3210,3170,3210,3170,3210,3170,3210,3170,3210,
  3170,3210,3170,3210,3170,3210,3170,3210,3170,3210,
  3170,3210,3170,3210,3170,3210,3170,3210,3170,3210,
  3170,3210,3170,3210,3170,3210,3170,3210,3170,3210,
  3170,3210,3170,3210,3170,3210,3170,3210,3170,3210,
  3180,3220,3180,3220,3180,3220,3180,3220,3180,3220,
  3180,3220,3180,3220,3180,3220,3180,3220,3180,3220,
  3180,3220,3180,3220,3180,3220,3180,3220,3180,3220,
  3180,3220,3180,3220,3180,3220,3180,3220,3180,3220,
  3180,3220,3180,3220,3180,3220,3180,3220,3180,3220,
  3180,3220,3180,3220,3180,3220,3180,3220,3180,3220,
  3200,3230,3200,3230,3200,3230,3200,3230,3200,3230,
  3200,3230,3200,3230,3200,3230,3200,3230,3200,3230,
  3200,3230,3200,3230,3200,3230,3200,3230,3200,3230,
  3200,3230
];
var freitasB = [
  null,null,null,null,null,null,null,null,null,null,
  null,null,null,null,null,null,null,null,null,null,
  null,null,null,null,null,null,null,null,null,null,
  null,null,null,null,null,null,null,null,null,null,
  null,null,null,null,null,null,null,null,null,null,
  null,null,null,null,null,null,null,null,null,null,
  null,null,null,null,null,null,null,null,null,null,
  null,null,null,null,null,null,null,null,null,null,
  null,null,null,null,null,null,null,null,null,null,
  null,null,null,null,null,null,null,null,null,null,
  null,null,null,null,null,null,null,null,null,null,
  null,null,null,null,null,null,null,null,null,null,
  null,null,3060,null,3060,null,3060,null,3060,null,
  3060,null,3060,null,3060,null,3060,null,3060,null,
  3060,null,3060,null,3060,null,3060,null,3060,null,
  3060,null,3060,null,3060,null,3060,3060,3060,3060,
  3080,3080,3080,3080,3080,3080,3080,3080,3080,3080,
  3080,3080,3080,3080,3080,3080,3080,3080,3080,3080,
  3080,3080,3080,3080,3080,3080,3080,3080,3080,3080,
  3080,3080,3080,3080,3080,3080,3080,3080,3080,3080,
  3100,3100,3100,3100,3100,3100,3100,3100,3100,3100,
  3100,3100,3100,3100,3100,3100,3100,3100,3100,3100,
  3100,3100,3100,3100,3100,3100,3100,3100,3100,3100,
  3100,3100,3100,3100,3100,3100,3100,3100,3100,3100,
  3120,3120,3120,3120,3120,3120,3120,3120,3120,3120,
  3120,3120,3120,3120,3120,3120,3120,3120,3120,3120,
  3120,3120,3120,3120,3120,3120,3120,3120,3120,3120,
  3120,3120,3120,3120,3120,3120,3120,3120,3120,3120,
  3140,3140,3140,3140,3140,3140,3140,3140,3140,3140,
  3140,3140,3140,3140,3140,3140,3140,3140,3140,3140,
  3140,3140,3140,3140,3140,3140,3140,3140,3140,3140,
  3150,3150,3150,3150,3150,3150,3150,3150,3150,3150,
  3150,3150,3150,3150,3150,3150,3150,3150,3150,3150,
  3150,3150,3150,3150,3150,3150,3150,3150,3150,3150,
  3150,3150,3150,3150,3150,3150,3150,3150,3150,3150,
  3170,3170,3170,3170,3170,3170,3170,3170,3170,3170,
  3170,3170,3170,3170,3170,3170,3170,3170,3170,3170,
  3170,3170,3170,3170,3170,3170,3170,3170,3170,3170,
  3170,3170,3170,3170,3170,3170,3170,3170,3170,3170,
  3170,3170,3170,3170,3170,3170,3170,3170,3170,3170,
  3170,3170,3170,3170,3170,3170,3170,3170,3170,3170,
  3180,3180,3180,3180,3180,3180,3180,3180,3180,3180,
  3180,3180,3180,3180,3180,3180,3180,3180,3180,3180,
  3180,3180,3180,3180,3180,3180,3180,3180,3180,3180,
  3180,3180,3180,3180,3180,3180,3180,3180,3180,3180,
  3180,3180,3180,3180,3180,3180,3180,3180,3180,3180,
  3180,3180,3180,3180,3180,3180,3180,3180,3180,3180,
  3190,3190,3190,3190,3190,3190,3190,3190,3190,3190,
  3190,3190,3190,3190,3190,3190,3190,3190,3190,3190,
  3190,3190,3190,3190,3190,3190,3190,3190,3190,3190,
  3190,3190,3190,3190,3190,3190,3190,3190,3190,3190,
  3190,3190,3190,3190,3190,3190,3190,3190,3190,3190,
  3190,3190,3190,3190,3190,3190,3190,3190,3190,3190,
  3200,3200,3200,3200,3200,3200,3200,3200,3200,3200,
  3200,3200,3200,3200,3200,3200,3200,3200,3200,3200,
  3200,3200,3200,3200,3200,3200,3200,3200,3200,3200,
  3200,3200,3200,3200,3200,3200,3200,3200,3200,3200,
  3200,3200,3200,3200,3200,3200,3200,3200,3200,3200,
  3200,3200,3200,3200,3200,3200,3200,3200,3200,3200,
  3210,3210,3210,3210,3210,3210,3210,3210,3210,3210,
  3210,3210,3210,3210,3210,3210,3210,3210,3210,3210,
  3210,3210,3210,3210,3210,3210,3210,3210,3210,3210,
  3210,3210
];
var briggsB = [
  2820,2820,2820,2840,2900,2880,2900,2900,2830,2900,
  2900,2900,2880,2900,2830,2900,2900,2880,2900,2900,
  2900,2900,2880,2900,2830,2900,2900,2880,2900,2900,
  2900,2900,2880,2900,2830,2900,2900,2880,2900,2900,
  2900,2900,2880,2900,2830,2900,2900,2880,2900,2900,
  2900,2900,2880,2900,2830,2900,2900,2880,2900,2900,
  2900,2900,2880,2900,2830,2900,2900,2880,2900,2900,
  2900,2900,2880,2900,2830,2900,2900,2880,2900,2900,
  2900,2900,2880,2900,2830,2900,2900,2880,2900,2900,
  2900,2900,2880,2900,2830,2900,2900,2880,2900,2900,
  2900,2900,2880,2900,2830,2900,2900,2880,2900,2900,
  2900,2900,2880,2900,2830,2900,2900,2880,2900,2900,
  2900,2900,3820,2900,3820,2900,3820,2900,3820,2900,
  3820,2900,3820,2900,3820,2900,3820,2900,3820,2900,
  3820,2900,3820,2900,3820,2900,3820,2900,3820,2900,
  3820,2900,3820,2900,3820,2900,3820,3820,3820,3820,
  3820,3820,3820,3820,3820,3820,3820,3820,3820,3820,
  3820,3820,3820,3820,3820,3820,3820,3820,3820,3820,
  3820,3820,3820,3820,3820,3820,3820,3820,3820,3820,
  3820,3820,3820,3820,3820,3820,3820,3820,3820,3820,
  3840,3840,3840,3840,3840,3840,3840,3840,3840,3840,
  3840,3840,3840,3840,3840,3840,3840,3840,3840,3840,
  3840,3840,3840,3840,3840,3840,3840,3840,3840,3840,
  3840,3840,3840,3840,3840,3840,3840,3840,3840,3840,
  3850,3870,3850,3870,3850,3870,3850,3870,3850,3870,
  3850,3870,3850,3870,3850,3870,3850,3870,3850,3870,
  3850,3870,3850,3870,3850,3870,3850,3870,3850,3870,
  3850,3870,3850,3870,3850,3870,3850,3870,3850,3870,
  3870,3900,3870,3900,3870,3900,3870,3900,3870,3900,
  3870,3900,3870,3900,3870,3900,3870,3900,3870,3900,
  3870,3900,3870,3900,3870,3900,3870,3900,3870,3900,
  3880,3920,3880,3920,3880,3920,3880,3920,3880,3920,
  3880,3920,3880,3920,3880,3920,3880,3920,3880,3920,
  3880,3920,3880,3920,3880,3920,3880,3920,3880,3920,
  3880,3920,3880,3920,3880,3920,3880,3920,3880,3920,
  3900,3940,3900,3940,3900,3940,3900,3940,3900,3940,
  3900,3940,3900,3940,3900,3940,3900,3940,3900,3940,
  3900,3940,3900,3940,3900,3940,3900,3940,3900,3940,
  3900,3940,3900,3940,3900,3940,3900,3940,3900,3940,
  3900,3940,3900,3940,3900,3940,3900,3940,3900,3940,
  3900,3940,3900,3940,3900,3940,3900,3940,3900,3940,
  3910,3950,3910,3950,3910,3950,3910,3950,3910,3950,
  3910,3950,3910,3950,3910,3950,3910,3950,3910,3950,
  3910,3950,3910,3950,3910,3950,3910,3950,3910,3950,
  3910,3950,3910,3950,3910,3950,3910,3950,3910,3950,
  3910,3950,3910,3950,3910,3950,3910,3950,3910,3950,
  3910,3950,3910,3950,3910,3950,3910,3950,3910,3950,
  3930,3970,3930,3970,3930,3970,3930,3970,3930,3970,
  3930,3970,3930,3970,3930,3970,3930,3970,3930,3970,
  3930,3970,3930,3970,3930,3970,3930,3970,3930,3970,
  3930,3970,3930,3970,3930,3970,3930,3970,3930,3970,
  3930,3970,3930,3970,3930,3970,3930,3970,3930,3970,
  3930,3970,3930,3970,3930,3970,3930,3970,3930,3970,
  3940,3980,3940,3980,3940,3980,3940,3980,3940,3980,
  3940,3980,3940,3980,3940,3980,3940,3980,3940,3980,
  3940,3980,3940,3980,3940,3980,3940,3980,3940,3980,
  3940,3980,3940,3980,3940,3980,3940,3980,3940,3980,
  3940,3980,3940,3980,3940,3980,3940,3980,3940,3980,
  3940,3980,3940,3980,3940,3980,3940,3980,3940,3980,
  3950,3990,3950,3990,3950,3990,3950,3990,3950,3990,
  3950,3990,3950,3990,3950,3990,3950,3990,3950,3990,
  3950,3990,3950,3990,3950,3990,3950,3990,3950,3990,
  3950,3990
];

var seriesNames = ['MISR', 'Sofiev', 'Freitas', 'Briggs'];
var seriesColors = ['#000000', '#ff0000', '#ffc000', '#1f4ff0'];
var serif = "'Liberation Serif', 'Times New Roman', serif";

Chart.defaults.font.family = serif;
Chart.defaults.color = '#000';
Chart.defaults.animation = false;

function pts(dist, vals) {
  var out = [];
  for (var i = 0; i < dist.length; i++) {
    if (vals[i] !== null && vals[i] !== undefined) out.push({x: dist[i], y: vals[i]});
  }
  return out;
}

function makeDatasets(dist, misr, sofiev, freitas, briggs, triR, sqR) {
  var ys = [misr, sofiev, freitas, briggs];
  var styles = ['circle', 'triangle', 'circle', 'rect'];
  var radii = [2.2, triR, 2, sqR];
  var ds = [];
  for (var k = 0; k < 4; k++) {
    ds.push({
      label: seriesNames[k],
      data: pts(dist, ys[k]),
      pointStyle: styles[k],
      pointRadius: radii[k],
      pointHoverRadius: radii[k],
      pointBackgroundColor: seriesColors[k],
      pointBorderColor: seriesColors[k],
      pointBorderWidth: 0,
      backgroundColor: seriesColors[k],
      borderColor: seriesColors[k],
      showLine: false,
      order: 4 - k   // Briggs drawn on top, MISR at the back
    });
  }
  return ds;
}

// small marker pictures for the legend
function marker(kind, color) {
  var c = document.createElement('canvas');
  var g;
  if (kind === 'tri') {
    c.width = 12; c.height = 11;
    g = c.getContext('2d');
    g.fillStyle = color;
    g.beginPath(); g.moveTo(6, 1); g.lineTo(11.5, 10.5); g.lineTo(0.5, 10.5); g.closePath(); g.fill();
  } else if (kind === 'sq') {
    c.width = 5; c.height = 5;
    g = c.getContext('2d');
    g.fillStyle = color;
    g.fillRect(1, 1, 3, 3);
  } else {
    c.width = 5; c.height = 5;
    g = c.getContext('2d');
    g.fillStyle = color;
    g.beginPath(); g.arc(2.5, 2.5, 1.6, 0, Math.PI * 2); g.fill();
  }
  return c;
}
var legendMarks = [marker('dot', '#000'), marker('tri', '#ff0000'), marker('dot', '#ffc000'), marker('sq', '#1f4ff0')];

// moves title / legend sideways after layout (they are centred on the picture, not the canvas)
var nudge = {
  id: 'nudge',
  afterLayout: function(chart, args, opts) {
    if (opts.title && chart.titleBlock) {
      chart.titleBlock.left += opts.title;
      chart.titleBlock.right += opts.title;
    }
    if (opts.legend && chart.legend) {
      chart.legend.left += opts.legend;
      chart.legend.right += opts.legend;
    }
  }
};

function scales(xMax, xBoxH, xTitlePad) {
  return {
    x: {
      type: 'linear', min: 0, max: xMax,
      ticks: { stepSize: 10, includeBounds: false, padding: 9, maxRotation: 0, font: { size: 22 } },
      grid: { display: false, drawTicks: false },
      border: { display: false },
      title: { display: true, text: 'Distance (km) from the source point', font: { size: 22, lineHeight: 0.8 }, padding: { top: 0, bottom: xTitlePad } },
      afterFit: function(s) { s.height = xBoxH; }
    },
    y: {
      min: 0, max: 5000,
      ticks: { stepSize: 1000, padding: 17, font: { size: 22 }, callback: function(v) { return String(v); } },
      grid: { color: '#d9d9d9', lineWidth: 1, drawTicks: false },
      border: { display: true, color: '#d9d9d9' },
      title: { display: true, text: 'Plume height (m)', font: { size: 22 }, padding: { top: 7, bottom: 0 } },
      afterFit: function(s) { s.width = 100; }
    }
  };
}

new Chart(document.getElementById('chartA'), {
  type: 'scatter',
  data: { datasets: makeDatasets(distA, misrA, sofievA, freitasA, briggsA, 5.5, 3.2) },
  options: {
    responsive: false,
    layout: { padding: { left: 0, right: 5, top: 0, bottom: 0 } },
    scales: scales(60, 76, 11),
    plugins: {
      legend: { display: false },
      tooltip: { enabled: false },
      title: {
        display: true,
        text: 'a) Observed and Simulated Plume Height for Aug 15 Milepost 21 Fire Easterly Plume',
        font: { size: 25, weight: 'bold' },
        padding: { top: 12, bottom: 20 }
      },
      nudge: { title: 12 }
    }
  },
  plugins: [nudge]
});

new Chart(document.getElementById('chartB'), {
  type: 'scatter',
  data: { datasets: makeDatasets(distB, misrB, sofievB, freitasB, briggsB, 6, 2.6) },
  options: {
    responsive: false,
    layout: { padding: { left: 0, right: 5, top: 0, bottom: 0 } },
    scales: scales(52.3, 66, 0),
    plugins: {
      tooltip: { enabled: false },
      title: {
        display: true,
        text: 'b) Observed and Simulated Plume Height for Aug 31 Complex Fire Southerly Plume',
        font: { size: 26, weight: 'bold' },
        padding: { top: 12.4, bottom: 20.4 }
      },
      legend: {
        display: true,
        position: 'bottom',
        labels: {
          usePointStyle: true,
          boxWidth: 2,
          boxHeight: 2,
          padding: 24,
          font: { size: 22 },
          sort: function(a, b) { return a.datasetIndex - b.datasetIndex; },
          generateLabels: function(chart) {
            var items = Chart.defaults.plugins.legend.labels.generateLabels(chart);
            items.forEach(function(it) { it.pointStyle = legendMarks[it.datasetIndex]; });
            return items;
          }
        }
      },
      nudge: { title: 25, legend: 21 }
    }
  },
  plugins: [nudge]
});
</script>
</body>
</html>
